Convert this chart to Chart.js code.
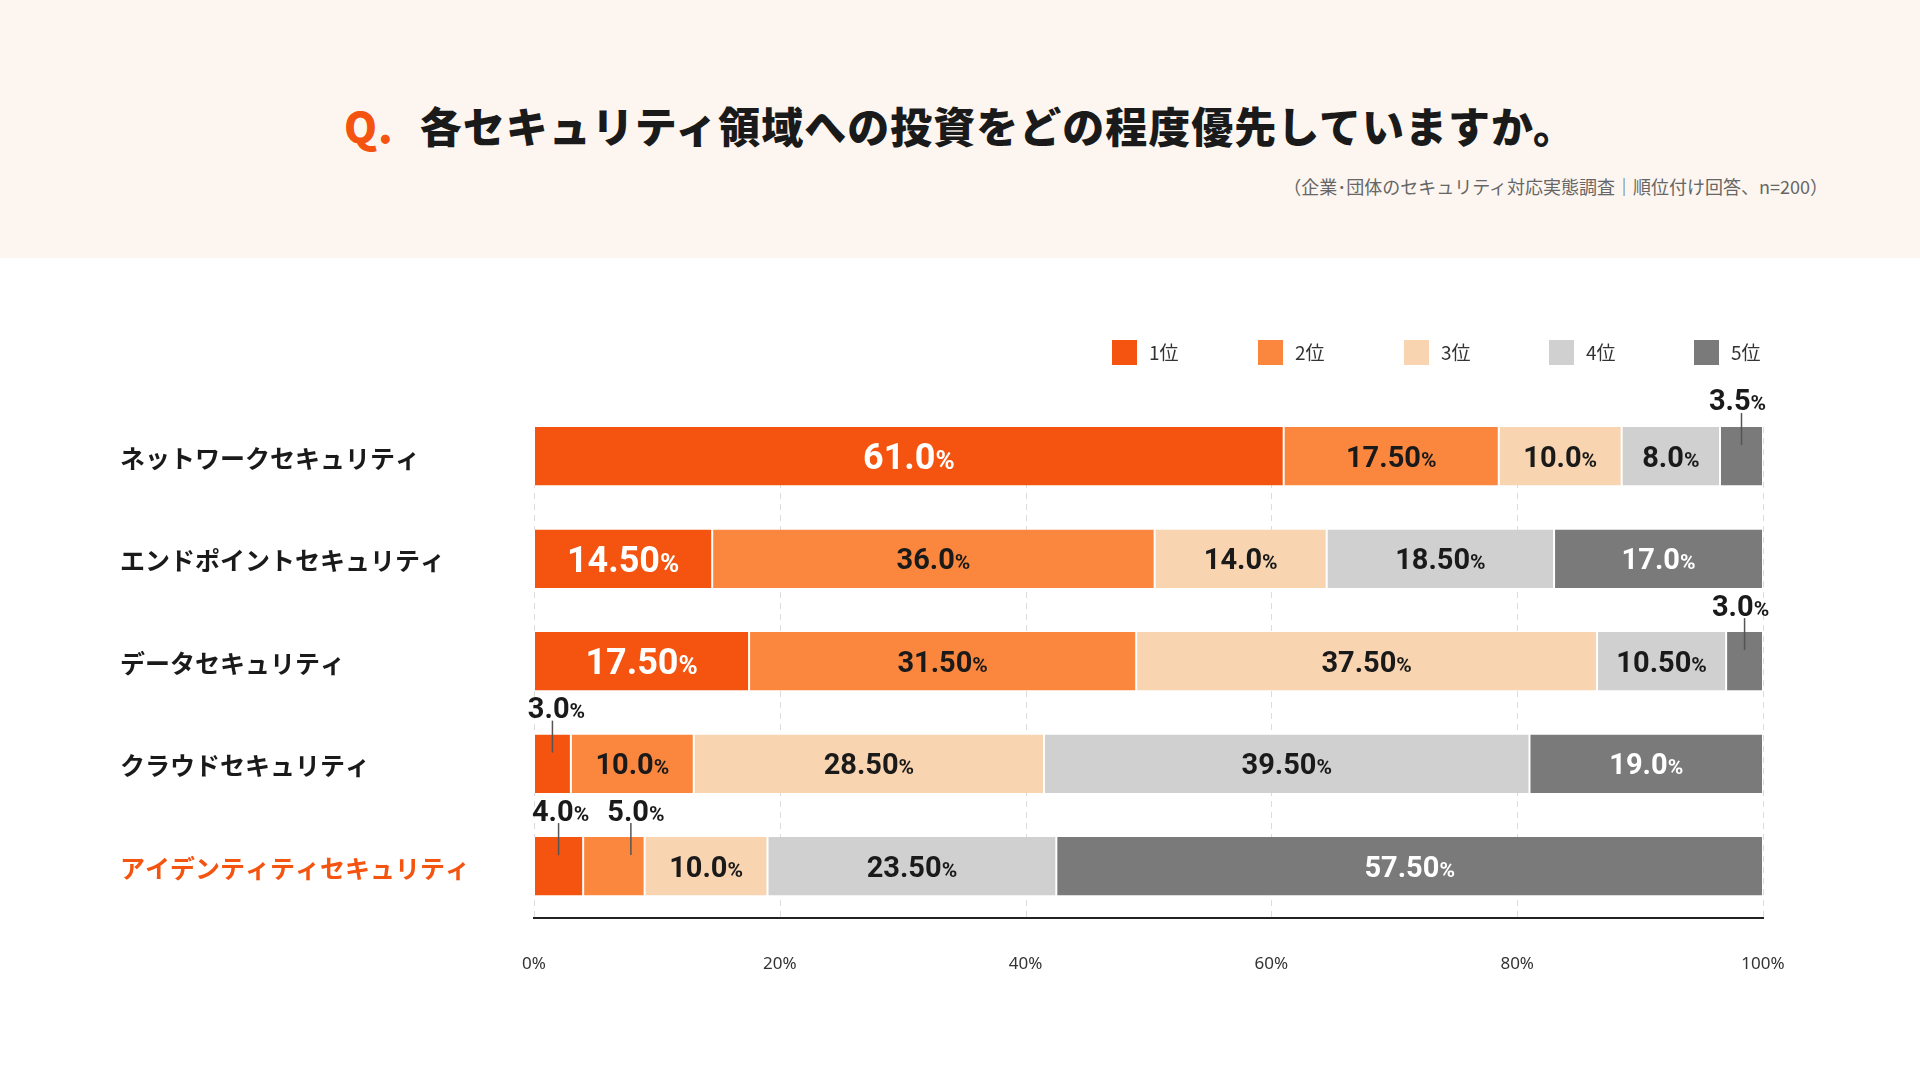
<!DOCTYPE html>
<html><head><meta charset="utf-8">
<script src="https://cdn.jsdelivr.net/npm/chart.js@4"></script>
<style>
html,body{margin:0;padding:0;width:1920px;height:1080px;background:#fff;font-family:"Noto Sans CJK JP","Noto Sans",sans-serif;overflow:hidden}
#hdr{position:absolute;left:0;top:0;width:1920px;height:258px;background:#fdf6f0}
#title{position:absolute;left:0;width:1920px;top:94px;text-align:center;font-size:42px;font-weight:900;color:#1a1a1a;letter-spacing:1px}
#title span{color:#f4540f;margin-right:26px}
#sub{position:absolute;right:92px;top:173px;font-size:18px;color:#666}
#wrap{position:absolute;left:0;top:0;width:1920px;height:1080px}
</style></head><body>
<div id="hdr"></div>
<div id="title"><span>Q.</span>各セキュリティ領域への投資をどの程度優先していますか。</div>
<div id="sub">（企業･団体のセキュリティ対応実態調査｜順位付け回答、n=200）</div>
<div id="wrap"><canvas id="c" width="1920" height="1080"></canvas></div>
<script>
const categories=["ネットワークセキュリティ","エンドポイントセキュリティ","データセキュリティ","クラウドセキュリティ","アイデンティティセキュリティ"];
const seriesNames=["1位","2位","3位","4位","5位"];
const rank1=[61.0,14.5,17.5,3.0,4.0];
const rank2=[17.5,36.0,31.5,10.0,5.0];
const rank3=[10.0,14.0,37.5,28.5,10.0];
const rank4=[8.0,18.5,10.5,39.5,23.5];
const rank5=[3.5,17.0,3.0,19.0,57.5];
const labelText=[["61.0","17.50","10.0","8.0","3.5"],["14.50","36.0","14.0","18.50","17.0"],["17.50","31.50","37.50","10.50","3.0"],["3.0","10.0","28.50","39.50","19.0"],["4.0","5.0","10.0","23.50","57.50"]];
const ticks=["0%","20%","40%","60%","80%","100%"];
const colors=["#f4540f","#fb873e","#f8d4b0","#d0d0d0","#7a7a7a"];
const all=[rank1,rank2,rank3,rank4,rank5];
const cond='"Liberation Sans Narrow","Roboto",sans-serif';
const plug={id:'deco',afterDatasetsDraw(ch){
 const c=ch.ctx;c.save();
 const ys=ch.scales.y;
 categories.forEach((t,i)=>{c.font='700 25px "Noto Sans CJK JP"';c.fillStyle=i===4?'#f4540f':'#1a1a1a';c.textAlign='left';c.textBaseline='middle';c.fillText(t,120,ys.getPixelForValue(i)+2);});
 const lx=[1112,1258,1404,1549,1694];
 seriesNames.forEach((n,k)=>{c.fillStyle=colors[k];c.fillRect(lx[k],340,25,25);c.fillStyle='#333';c.font='19px "Noto Sans CJK JP"';c.textAlign='left';c.textBaseline='middle';c.fillText(n,lx[k]+37,353);});
 const small={"0-4":-4,"2-4":-4,"3-0":4,"4-0":2,"4-1":22};
 function lab(x,y,num,col,big){const s1=big?36:29,s2=big?26:21;c.font='700 '+s1+'px '+cond;const w1=c.measureText(num).width;c.font='700 '+s2+'px '+cond;const w2=c.measureText('%').width;const x0=x-(w1+w2)/2;c.fillStyle=col;c.textAlign='left';c.textBaseline='alphabetic';c.font='700 '+s1+'px '+cond;c.fillText(num,x0,y+s1*0.36);c.font='700 '+s2+'px '+cond;c.fillText('%',x0+w1,y+s1*0.36);}
 ch.data.datasets.forEach((ds,k)=>{const meta=ch.getDatasetMeta(k);meta.data.forEach((b,i)=>{const key=i+'-'+k;const txt=labelText[i][k];
  if(key in small){const top=b.y-b.height/2;const cx=(b.x+b.base)/2;const ly=top-27;const tx=cx+small[key];const lxx=(i===4&&k===1)?cx+17:cx;
   c.strokeStyle='#555';c.lineWidth=1.5;c.beginPath();c.moveTo(lxx,ly+13);c.lineTo(lxx,top+18);c.stroke();lab(tx,ly,txt,'#1a1a1a',false);}
  else{const big=(k===0&&ds.data[i]>=14);lab((b.x+b.base)/2,b.y,txt,(k===0||k===4)?'#fff':'#1a1a1a',big);}
 });});
 c.restore();}};
new Chart(document.getElementById('c'),{type:'bar',
 data:{labels:categories,datasets:all.map((d,k)=>({label:seriesNames[k],data:d,backgroundColor:colors[k],borderColor:'#fff',borderWidth:{left:1,right:1,top:0,bottom:0},borderSkipped:false,barPercentage:0.57,categoryPercentage:1}))},
 options:{indexAxis:'y',responsive:false,animation:false,
  layout:{padding:{left:534,right:157,top:405,bottom:78}},
  plugins:{legend:{display:false},tooltip:{enabled:false}},
  scales:{
   x:{stacked:true,min:0,max:100,ticks:{stepSize:20,padding:28,color:'#333',font:{size:17,family:'"Noto Sans"'},callback:(v)=>ticks[v/20]},
      grid:{display:false},border:{display:true,color:'#222',width:2}},
   y:{stacked:true,display:false,grid:{display:false}}}},
 plugins:[plug,{id:'dashgrid',beforeDatasetsDraw(ch){const c=ch.ctx,ca=ch.chartArea,x=ch.scales.x;const m=ch.getDatasetMeta(0).data[0];const t0=m.y-m.height/2;c.save();c.strokeStyle='#dcdcdc';c.lineWidth=1;c.setLineDash([6,5]);for(let v=0;v<=100;v+=20){const px=Math.round(x.getPixelForValue(v))+0.5;c.beginPath();c.moveTo(px,t0);c.lineTo(px,ca.bottom);c.stroke();}c.restore();}}]
});
</script></body></html>
